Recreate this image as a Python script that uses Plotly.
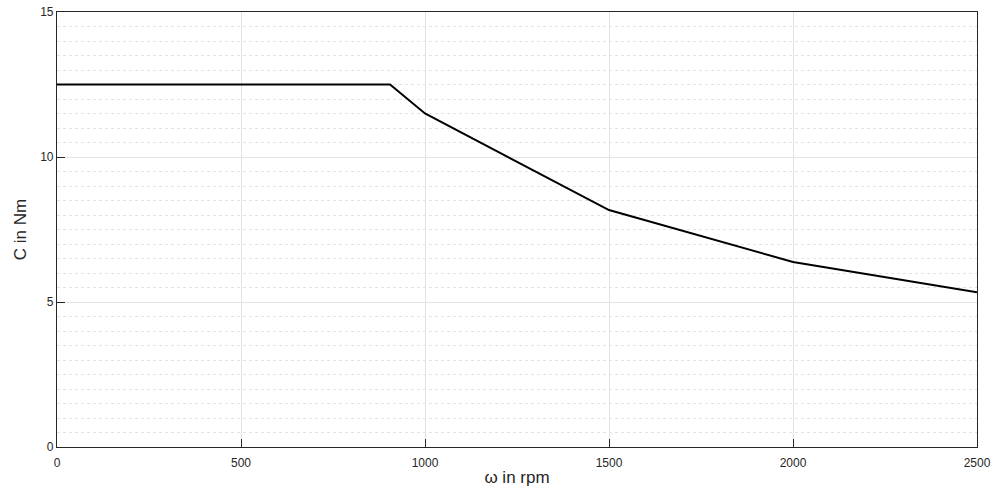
import plotly.graph_objects as go

speed_rpm = [0, 905, 1000, 1500, 2000, 2500]
torque_nm = [12.5, 12.5, 11.5, 8.17, 6.38, 5.34]

x_ticks = [0, 500, 1000, 1500, 2000, 2500]
y_ticks = [0, 5, 10, 15]

fig = go.Figure()
fig.add_trace(go.Scatter(x=speed_rpm, y=torque_nm, mode="lines",
                         line=dict(color="black", width=2), showlegend=False))

axis_font = dict(family="Liberation Sans, Arial, sans-serif", size=12, color="#262626")
title_font = dict(family="Liberation Sans, Arial, sans-serif", size=17, color="#262626")

fig.update_layout(
    width=995, height=495,
    margin=dict(l=57, r=18, t=12, b=48),
    paper_bgcolor="white", plot_bgcolor="white",
    xaxis=dict(
        range=[0, 2500], tickvals=x_ticks, ticktext=[str(v) for v in x_ticks],
        showline=True, linecolor="#262626", linewidth=1.2, mirror=True,
        ticks="inside", ticklen=8, tickcolor="#262626", tickwidth=1,
        showgrid=True, gridcolor="#e3e3e3", gridwidth=1,
        zeroline=False, tickfont=axis_font, automargin=False,
        ticklabelstandoff=4,
        title=dict(text="ω in rpm", font=title_font, standoff=2),
    ),
    yaxis=dict(
        range=[0, 15], tickvals=y_ticks, ticktext=[str(v) for v in y_ticks],
        showline=True, linecolor="#262626", linewidth=1.2, mirror=True,
        ticks="inside", ticklen=8, tickcolor="#262626", tickwidth=1,
        showgrid=True, gridcolor="#e3e3e3", gridwidth=1,
        minor=dict(dtick=0.5, showgrid=True, griddash="dot", gridcolor="#e3e3e3", gridwidth=1),
        zeroline=False, tickfont=axis_font, automargin=False,
        title=dict(text="C in Nm", font=title_font, standoff=9),
    ),
)

fig.write_html("out.html")
